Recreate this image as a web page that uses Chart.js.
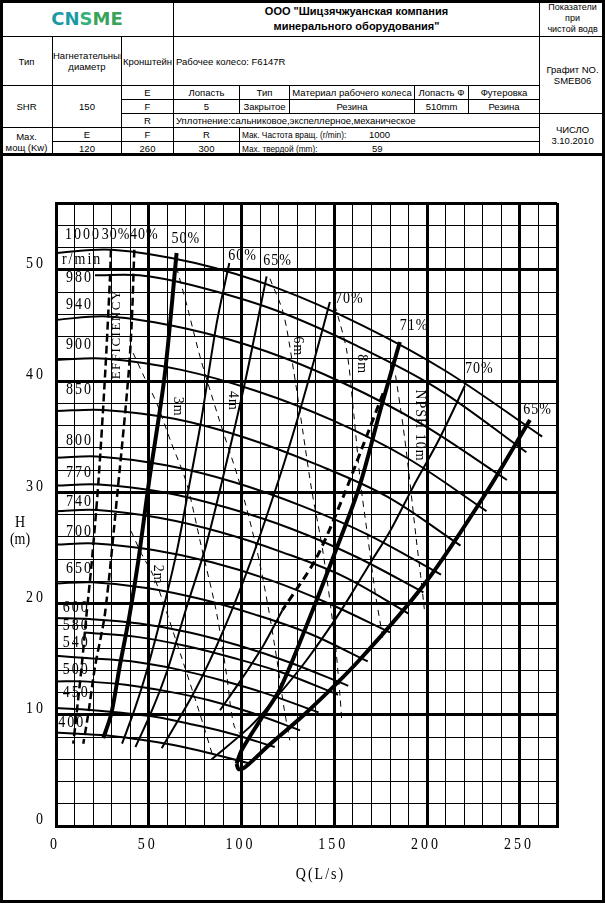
<!DOCTYPE html>
<html>
<head>
<meta charset="utf-8">
<script src="https://cdn.jsdelivr.net/npm/chart.js@4.4.1/dist/chart.umd.min.js"></script>
<style>
  body { margin: 0; width: 605px; height: 904px; position: relative; background: #fff; overflow: hidden; }
  #chart { position: absolute; left: 0; top: 0; }
  #head { position: absolute; left: 0; top: 0; width: 605px; border-collapse: collapse; table-layout: fixed;
          font-family: "Liberation Sans", Arial, sans-serif; font-size: 9.5px; background: #fff; }
  #head td { border: 1px solid #000; padding: 0; text-align: center; line-height: 11px; overflow: hidden; white-space: nowrap; }
  #head td.l { text-align: left; padding-left: 2px; }
  .title { font-weight: bold; font-size: 11px; line-height: 15px !important; }
  .logo { font-family: "DejaVu Sans", sans-serif; font-weight: bold; font-size: 18px; letter-spacing: 0; }
  .key { display: inline-block; width: 127px; font-size: 8.3px; }
  .frame { position: absolute; left: 0; top: 0; width: 599px; height: 897px; border: 3px solid #000; pointer-events: none; }
  .sep { position: absolute; left: 0; top: 153px; width: 605px; height: 3px; background: #000; }
</style>
</head>
<body>
<canvas id="chart" width="605" height="904"></canvas>
<table id="head">
  <colgroup>
    <col style="width:52px"><col style="width:69px"><col style="width:52px"><col style="width:66px"><col style="width:50px">
    <col style="width:125px"><col style="width:54px"><col style="width:71px"><col style="width:66px">
  </colgroup>
  <tr style="height:36px">
    <td colspan="3" class="logo"><span style="color:#1b9aa6">CN</span><span style="color:#35b07a">S</span><span style="color:#3aa35a">ME</span></td>
    <td colspan="5" class="title">ООО "Шицзячжуанская компания<br>минерального оборудования"</td>
    <td style="font-size:9px">Показатели<br>при<br>чистой водв</td>
  </tr>
  <tr style="height:49px">
    <td>Тип</td><td>Нагнетательный<br>диаметр</td><td>Кронштейн</td>
    <td colspan="5" class="l">Рабочее колесо: F6147R</td>
    <td rowspan="3">Графит NO.<br>SMEB06</td>
  </tr>
  <tr style="height:14px">
    <td rowspan="3">SHR</td><td rowspan="3">150</td><td>E</td>
    <td>Лопасть</td><td>Тип</td><td>Материал рабочего колеса</td><td>Лопасть Ф</td><td>Футеровка</td>
  </tr>
  <tr style="height:14px">
    <td>F</td><td>5</td><td>Закрытое</td><td>Резина</td><td>510mm</td><td>Резина</td>
  </tr>
  <tr style="height:14px">
    <td>R</td><td colspan="5" class="l">Уплотнение:сальниковое,экспеллерное,механическое</td>
    <td rowspan="3">ЧИСЛО<br>3.10.2010</td>
  </tr>
  <tr style="height:14px">
    <td rowspan="2">Max.<br>мощ (Kw)</td><td>E</td><td>F</td><td>R</td>
    <td colspan="4" class="l"><span class="key">Мак. Частота вращ. (r/min):</span>1000</td>
  </tr>
  <tr style="height:14px">
    <td>120</td><td>260</td><td>300</td>
    <td colspan="4" class="l"><span class="key" style="width:130px">Мах. твердой (mm):</span>59</td>
  </tr>
</table>
<div class="sep"></div>
<div class="frame"></div>

<script>
// speed curves H-Q, one array pair per speed (r/min)
const speeds = [1000, 980, 940, 900, 850, 800, 770, 740, 700, 650, 600, 580, 540, 500, 450, 400];
const speedQ = [
  [0, 30, 75, 120, 165, 210, 262],
  [21, 45, 73.5, 117.6, 161.7, 205.8, 253.5],
  [0, 28.2, 70.5, 112.8, 155.1, 197.4, 243],
  [0, 27, 67.5, 108, 148.5, 189, 232],
  [0, 25.5, 63.8, 102, 140.3, 178.5, 218],
  [0, 24, 60, 96, 132, 168, 207.5],
  [0, 23.1, 57.8, 92.4, 127.1, 161.7, 198],
  [0, 22.2, 55.5, 88.8, 122.1, 155.4, 190],
  [0, 21, 52.5, 84, 115.5, 147, 180],
  [0, 19.5, 48.8, 78, 107.3, 136.5, 168],
  [0, 18, 45, 72, 99, 126, 157.5],
  [15, 43.5, 69.6, 95.7, 121.8, 152],
  [0, 16.2, 40.5, 64.8, 89.1, 113.4, 141.5],
  [0, 15, 37.5, 60, 82.5, 105, 131.5],
  [0, 13.5, 33.8, 54, 74.3, 94.5, 117.9],
  [0, 12, 30, 48, 66, 84, 104.8]
];
const speedH = [
  [51.5, 51.8, 50.6, 48.3, 45.0, 40.9, 35.0],
  [49.5, 49.5, 48.6, 46.4, 43.2, 39.3, 33.6],
  [45.5, 45.8, 44.7, 42.7, 39.8, 36.1, 31.1],
  [41.9, 42.0, 41.0, 39.1, 36.5, 33.1, 28.3],
  [37.3, 37.4, 36.6, 34.9, 32.5, 29.6, 25.2],
  [33.1, 33.2, 32.4, 30.9, 28.8, 26.2, 22.6],
  [30.6, 30.7, 30.0, 28.6, 26.7, 24.2, 21.0],
  [28.3, 28.4, 27.7, 26.4, 24.6, 22.4, 19.1],
  [25.3, 25.4, 24.8, 23.7, 22.1, 20.0, 17.4],
  [21.8, 21.9, 21.4, 20.4, 19.0, 17.3, 14.8],
  [18.7, 18.6, 18.2, 17.4, 16.2, 14.7, 12.6],
  [17.4, 17.0, 16.2, 15.1, 13.8, 11.8],
  [15.3, 15.1, 14.8, 14.1, 13.1, 11.9, 10.2],
  [13.0, 13.0, 12.7, 12.1, 11.3, 10.2, 8.6],
  [10.6, 10.5, 10.2, 9.8, 9.1, 8.3, 7.1],
  [8.4, 8.3, 8.1, 7.7, 7.2, 6.5, 5.6]
];

// efficiency lines
const effNames = ['30%', '40%', '50%', '60%', '65%', '70%', '71%', '70%', '65%'];
const effQ = [
  [29.6, 29.1, 26.4, 22.8, 19.2, 16.5, 13.8, 11.1, 9.3],
  [42.2, 40.8, 39.0, 33.6, 26.4, 21.0, 17.4, 14.7],
  [65, 58.5, 50, 44.5, 39.8, 34.5, 29.8, 25.5],
  [93.4, 86.6, 78, 72, 65.5, 58.5, 49, 42.4, 35.6],
  [113.5, 102, 89.5, 80.5, 71, 60, 51.5, 42.8],
  [147.6, 140, 130, 120, 105, 90, 75, 57],
  [185.3, 175, 163.5, 149.5, 135, 120.7, 110, 100, 97.3],
  [220.4, 206, 192.5, 180, 169.2, 159, 149.4, 135, 120, 105, 83.9],
  [97.3, 98.5, 102, 115, 135, 163.4, 199.7, 232, 255.4]
];
const effH = [
  [51.8, 49.3, 40.4, 30.8, 23.6, 19.1, 14.3, 10.1, 7.4],
  [51.8, 45.2, 40.4, 30.8, 19.1, 14.3, 10.1, 7.4],
  [51.5, 40.4, 30.8, 24, 19.1, 14.5, 10.1, 7.9],
  [50.6, 45.2, 36.2, 30.8, 25, 20, 14, 10.5, 7.4],
  [49.4, 40, 31, 25, 20, 14, 10.3, 7.1],
  [47.1, 42.4, 36.5, 31.1, 23.8, 17.5, 12.2, 7.0],
  [43.5, 37.5, 30.5, 24.2, 18, 12.3, 9.5, 6.8, 5.6],
  [39.6, 34.6, 30.5, 26.5, 23.6, 20.8, 18.3, 14.9, 11.8, 9.0, 6.0],
  [5.6, 5.1, 5.3, 7.3, 10.2, 14.9, 22.0, 30.0, 36.5]
];
const effWidth = [2.5, 2.5, 4, 2, 2, 2, 4, 2, 4];
const effDash = [[8, 4], [8, 4], [], [], [], [], [], [], []];

// operating limit line beside 71%: dashed upper part, solid lower part
const limitQ = [176.3, 165, 154.8, 140, 122];
const limitH = [38.9, 34, 29.6, 24, 19.4];
const limitLowQ = [122, 112, 100, 88.4];
const limitLowH = [19.4, 16.3, 13.2, 10.4];

// NPSH lines
const npshNames = ['2m', '3m', '4m', '6m', '8m', '10m'];
const npshQ = [
  [40.5, 46, 52.5, 58, 67, 77.5, 84.5],
  [41.6, 48, 54.3, 62, 70.4, 78.5, 86.6, 92, 96, 101],
  [65, 71, 77.6, 88, 99, 108, 114, 119, 123, 126],
  [115.3, 122.5, 128, 133, 137.8, 144, 150.3, 153, 154],
  [150.3, 156.6, 160.5, 164, 168, 172, 175, 176.5],
  [183, 187, 190, 192, 194, 196.5, 198.5]
];
const npshH = [
  [26.5, 24.5, 22.5, 20, 15.5, 10.1, 6.3],
  [42.5, 40.2, 38, 34.5, 30.8, 25, 19.1, 13.5, 9, 8],
  [50.2, 46.5, 42.2, 36.5, 30.8, 25, 20, 15, 10.5, 7.7],
  [49.2, 46.1, 41, 35.5, 30.2, 24.5, 16.7, 11.8, 9.5],
  [46.8, 42.8, 37, 31, 26, 21, 18, 16.5],
  [40.5, 36, 32, 29, 26, 22.5, 19.5]
];

// label anchors (data units)
const speedLabelQ = [4.8, 5.4, 5.4, 5.4, 5.4, 5.4, 5.4, 5.4, 5.4, 5.4, 3.6, 3.6, 3.6, 3.6, 3.6, 1.2];
const speedLabelH = [53.2, 49.3, 46.9, 43.3, 39.2, 34.6, 31.8, 29.2, 26.5, 23.1, 19.6, 18.0, 16.5, 14.1, 12.0, 9.3];
const effLabelQ = [24.6, 39.9, 62.3, 92.8, 111.7, 150.3, 185.3, 220.4, 251.8];
const effLabelH = [53.2, 53.2, 52.8, 51.3, 50.8, 47.4, 45.0, 41.1, 37.4];
const npshLabelQ = [55, 65.5, 95, 130.5, 164.5, 196];
const npshLabelH = [22.6, 37.7, 38.2, 43.1, 41.5, 36];
const xTicks = [0, 50, 100, 150, 200, 250];
const yTicks = [0, 10, 20, 30, 40, 50];

const pts = (qs, hs) => qs.map((q, i) => ({ x: q, y: hs[i] }));
const datasets = [];
speeds.forEach((s, i) => datasets.push({ data: pts(speedQ[i], speedH[i]), borderWidth: 2, tension: 0.35 }));
effNames.forEach((n, i) => datasets.push({ data: pts(effQ[i], effH[i]), borderWidth: effWidth[i], borderDash: effDash[i], tension: 0.3 }));
datasets.push({ data: pts(limitQ, limitH), borderWidth: 3, borderDash: [8, 5], tension: 0.3 });
datasets.push({ data: pts(limitLowQ, limitLowH), borderWidth: 2, tension: 0.3 });
npshNames.forEach((n, i) => datasets.push({ data: pts(npshQ[i], npshH[i]), borderWidth: 1, borderDash: [6, 5], tension: 0.3 }));
datasets.forEach(d => Object.assign(d, { borderColor: '#000', pointRadius: 0, fill: false, showLine: true }));

function txt(ctx, s, x, y, o = {}) {
  ctx.save();
  ctx.translate(x, y);
  if (o.rot) ctx.rotate(o.rot);
  ctx.scale(1, o.sy || 1.2);
  ctx.font = (o.size || 14) + 'px "Liberation Serif", "DejaVu Serif", serif';
  ctx.letterSpacing = (o.ls == null ? 2 : o.ls) + 'px';
  ctx.textAlign = o.align || 'left';
  ctx.textBaseline = 'middle';
  ctx.fillStyle = '#000';
  ctx.fillText(s, 0, 0);
  ctx.restore();
}

const labels = {
  id: 'labels',
  afterDatasetsDraw(chart) {
    const { ctx, scales: { x, y }, chartArea: a } = chart;
    speeds.forEach((s, i) => txt(ctx, String(s), x.getPixelForValue(speedLabelQ[i]), y.getPixelForValue(speedLabelH[i])));
    txt(ctx, 'r/min', x.getPixelForValue(3.2), y.getPixelForValue(50.9));
    effNames.forEach((n, i) => txt(ctx, n, x.getPixelForValue(effLabelQ[i]), y.getPixelForValue(effLabelH[i]), { ls: 1 }));
    npshNames.forEach((n, i) => {
      const s = n === '10m' ? 'NPSH 10m' : n;
      txt(ctx, s, x.getPixelForValue(npshLabelQ[i]), y.getPixelForValue(npshLabelH[i]), { rot: Math.PI / 2, align: 'center', ls: 1, sy: 1 });
    });
    txt(ctx, 'EFFICIENCY', x.getPixelForValue(32.9), y.getPixelForValue(44.2), { rot: -Math.PI / 2, align: 'center', size: 13, ls: 1.5, sy: 1 });
    xTicks.forEach(v => txt(ctx, String(v), x.getPixelForValue(v) - 1, a.bottom + 19, { align: 'center', ls: 3 }));
    yTicks.forEach(v => txt(ctx, String(v), a.left - 10, y.getPixelForValue(v) - 6, { align: 'right', ls: 3 }));
    txt(ctx, 'H', a.left - 36, 523, { align: 'center', ls: 0 });
    txt(ctx, '(m)', a.left - 36, 540, { align: 'center', ls: 0 });
    txt(ctx, 'Q(L/s)', (a.left + a.right) / 2 + 14, a.bottom + 49, { align: 'center', ls: 2 });
  }
};

const gridWidth = (major, max) => c => (c.tick.value % major === 0 || c.tick.value === max) ? 3 : 1;

new Chart(document.getElementById('chart'), {
  type: 'scatter',
  data: { datasets },
  options: {
    responsive: false,
    animation: false,
    layout: { padding: { left: 56, right: 48, top: 203, bottom: 78 } },
    plugins: { legend: { display: false }, tooltip: { enabled: false } },
    scales: {
      x: {
        type: 'linear', min: 0, max: 270,
        ticks: { stepSize: 10, display: false },
        grid: { color: '#000', lineWidth: gridWidth(50, 270), drawTicks: false },
        border: { color: '#000', width: 3 }
      },
      y: {
        type: 'linear', min: 0, max: 56,
        ticks: { stepSize: 2, display: false },
        grid: { color: '#000', lineWidth: gridWidth(10, 56), drawTicks: false },
        border: { color: '#000', width: 3 }
      }
    }
  },
  plugins: [labels]
});
</script>
</body>
</html>
